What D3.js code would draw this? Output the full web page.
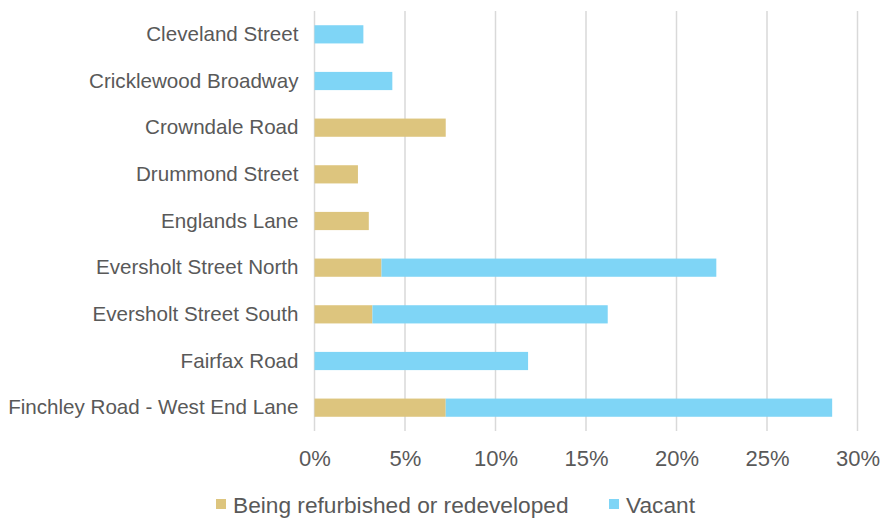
<!DOCTYPE html>
<html>
<head>
<meta charset="utf-8">
<script src="https://cdn.jsdelivr.net/npm/d3@7"></script>
<style>
  html, body { margin: 0; padding: 0; background: #fff; }
  svg { display: block; }
  text { font-family: "Liberation Sans", Arial, sans-serif; fill: #595959; }
</style>
</head>
<body>
<svg id="chart" width="882" height="523"></svg>
<script>
const categories = [
  "Cleveland Street",
  "Cricklewood Broadway",
  "Crowndale Road",
  "Drummond Street",
  "Englands Lane",
  "Eversholt Street North",
  "Eversholt Street South",
  "Fairfax Road",
  "Finchley Road - West End Lane"
];
const refurbished = [0, 0, 7.25, 2.4, 3.0, 3.7, 3.2, 0, 7.25];
const vacant      = [2.7, 4.3, 0, 0, 0, 18.5, 13.0, 11.8, 21.35];
const seriesNames = ["Being refurbished or redeveloped", "Vacant"];
const seriesColors = ["#DDC57E", "#7FD5F6"];
const xTicks = [0, 5, 10, 15, 20, 25, 30];

(function () {
const svg = d3.select("#chart");
const pLeft = 314.5, pRight = 857.5, pTop = 11, pBottom = 431;
const FONT = '"Liberation Sans", Arial, sans-serif';

const x = d3.scaleLinear().domain([0, 30]).range([pLeft, pRight]);
const y = d3.scaleBand().domain(categories).range([pTop, pBottom])
  .paddingInner(0.61).paddingOuter(0.305);

// gridlines
svg.append("g").selectAll("line").data(xTicks).join("line")
  .attr("x1", d => x(d)).attr("x2", d => x(d))
  .attr("y1", pTop).attr("y2", pBottom)
  .attr("stroke", "#D9D9D9").attr("stroke-width", 1.5);

// stacked data
const rows = categories.map((c, i) => ({ cat: c, vals: [refurbished[i], vacant[i]] }));
const stack = d3.stack().keys([0, 1]).value((d, k) => d.vals[k]);
const stacked = stack(rows);

svg.append("g").selectAll("g").data(stacked).join("g")
  .attr("fill", (d, i) => seriesColors[i])
  .selectAll("rect").data(d => d).join("rect")
  .attr("x", d => x(d[0]))
  .attr("width", d => Math.max(0, x(d[1]) - x(d[0])))
  .attr("y", d => y(d.data.cat))
  .attr("height", y.bandwidth());

// category axis labels
const yAxis = d3.axisLeft(y).tickSize(0).tickPadding(16);
const yg = svg.append("g").attr("transform", `translate(${pLeft},0)`).call(yAxis);
yg.select(".domain").remove();
yg.selectAll("text").style("font-size", "20.6px").attr("fill", "#595959")
  .style("font-family", FONT);

// value axis labels
const xAxis = d3.axisBottom(x).tickValues(xTicks).tickSize(0).tickPadding(0)
  .tickFormat(d => d + "%");
const xg = svg.append("g").attr("transform", `translate(0,${pBottom})`).call(xAxis);
xg.select(".domain").remove();
xg.selectAll("text").style("font-size", "22px").attr("fill", "#595959")
  .attr("dy", null).attr("y", 35)
  .style("font-family", FONT);

// legend
const legendItems = [
  { name: seriesNames[0], color: seriesColors[0], x: 216 },
  { name: seriesNames[1], color: seriesColors[1], x: 609 }
];
const lg = svg.append("g");
legendItems.forEach(it => {
  lg.append("rect").attr("x", it.x).attr("y", 499).attr("width", 10).attr("height", 10)
    .attr("fill", it.color);
  lg.append("text").attr("x", it.x + 17).attr("y", 513)
    .style("font-size", "22.7px").style("font-family", FONT).text(it.name);
});
})();
</script>
</body>
</html>
